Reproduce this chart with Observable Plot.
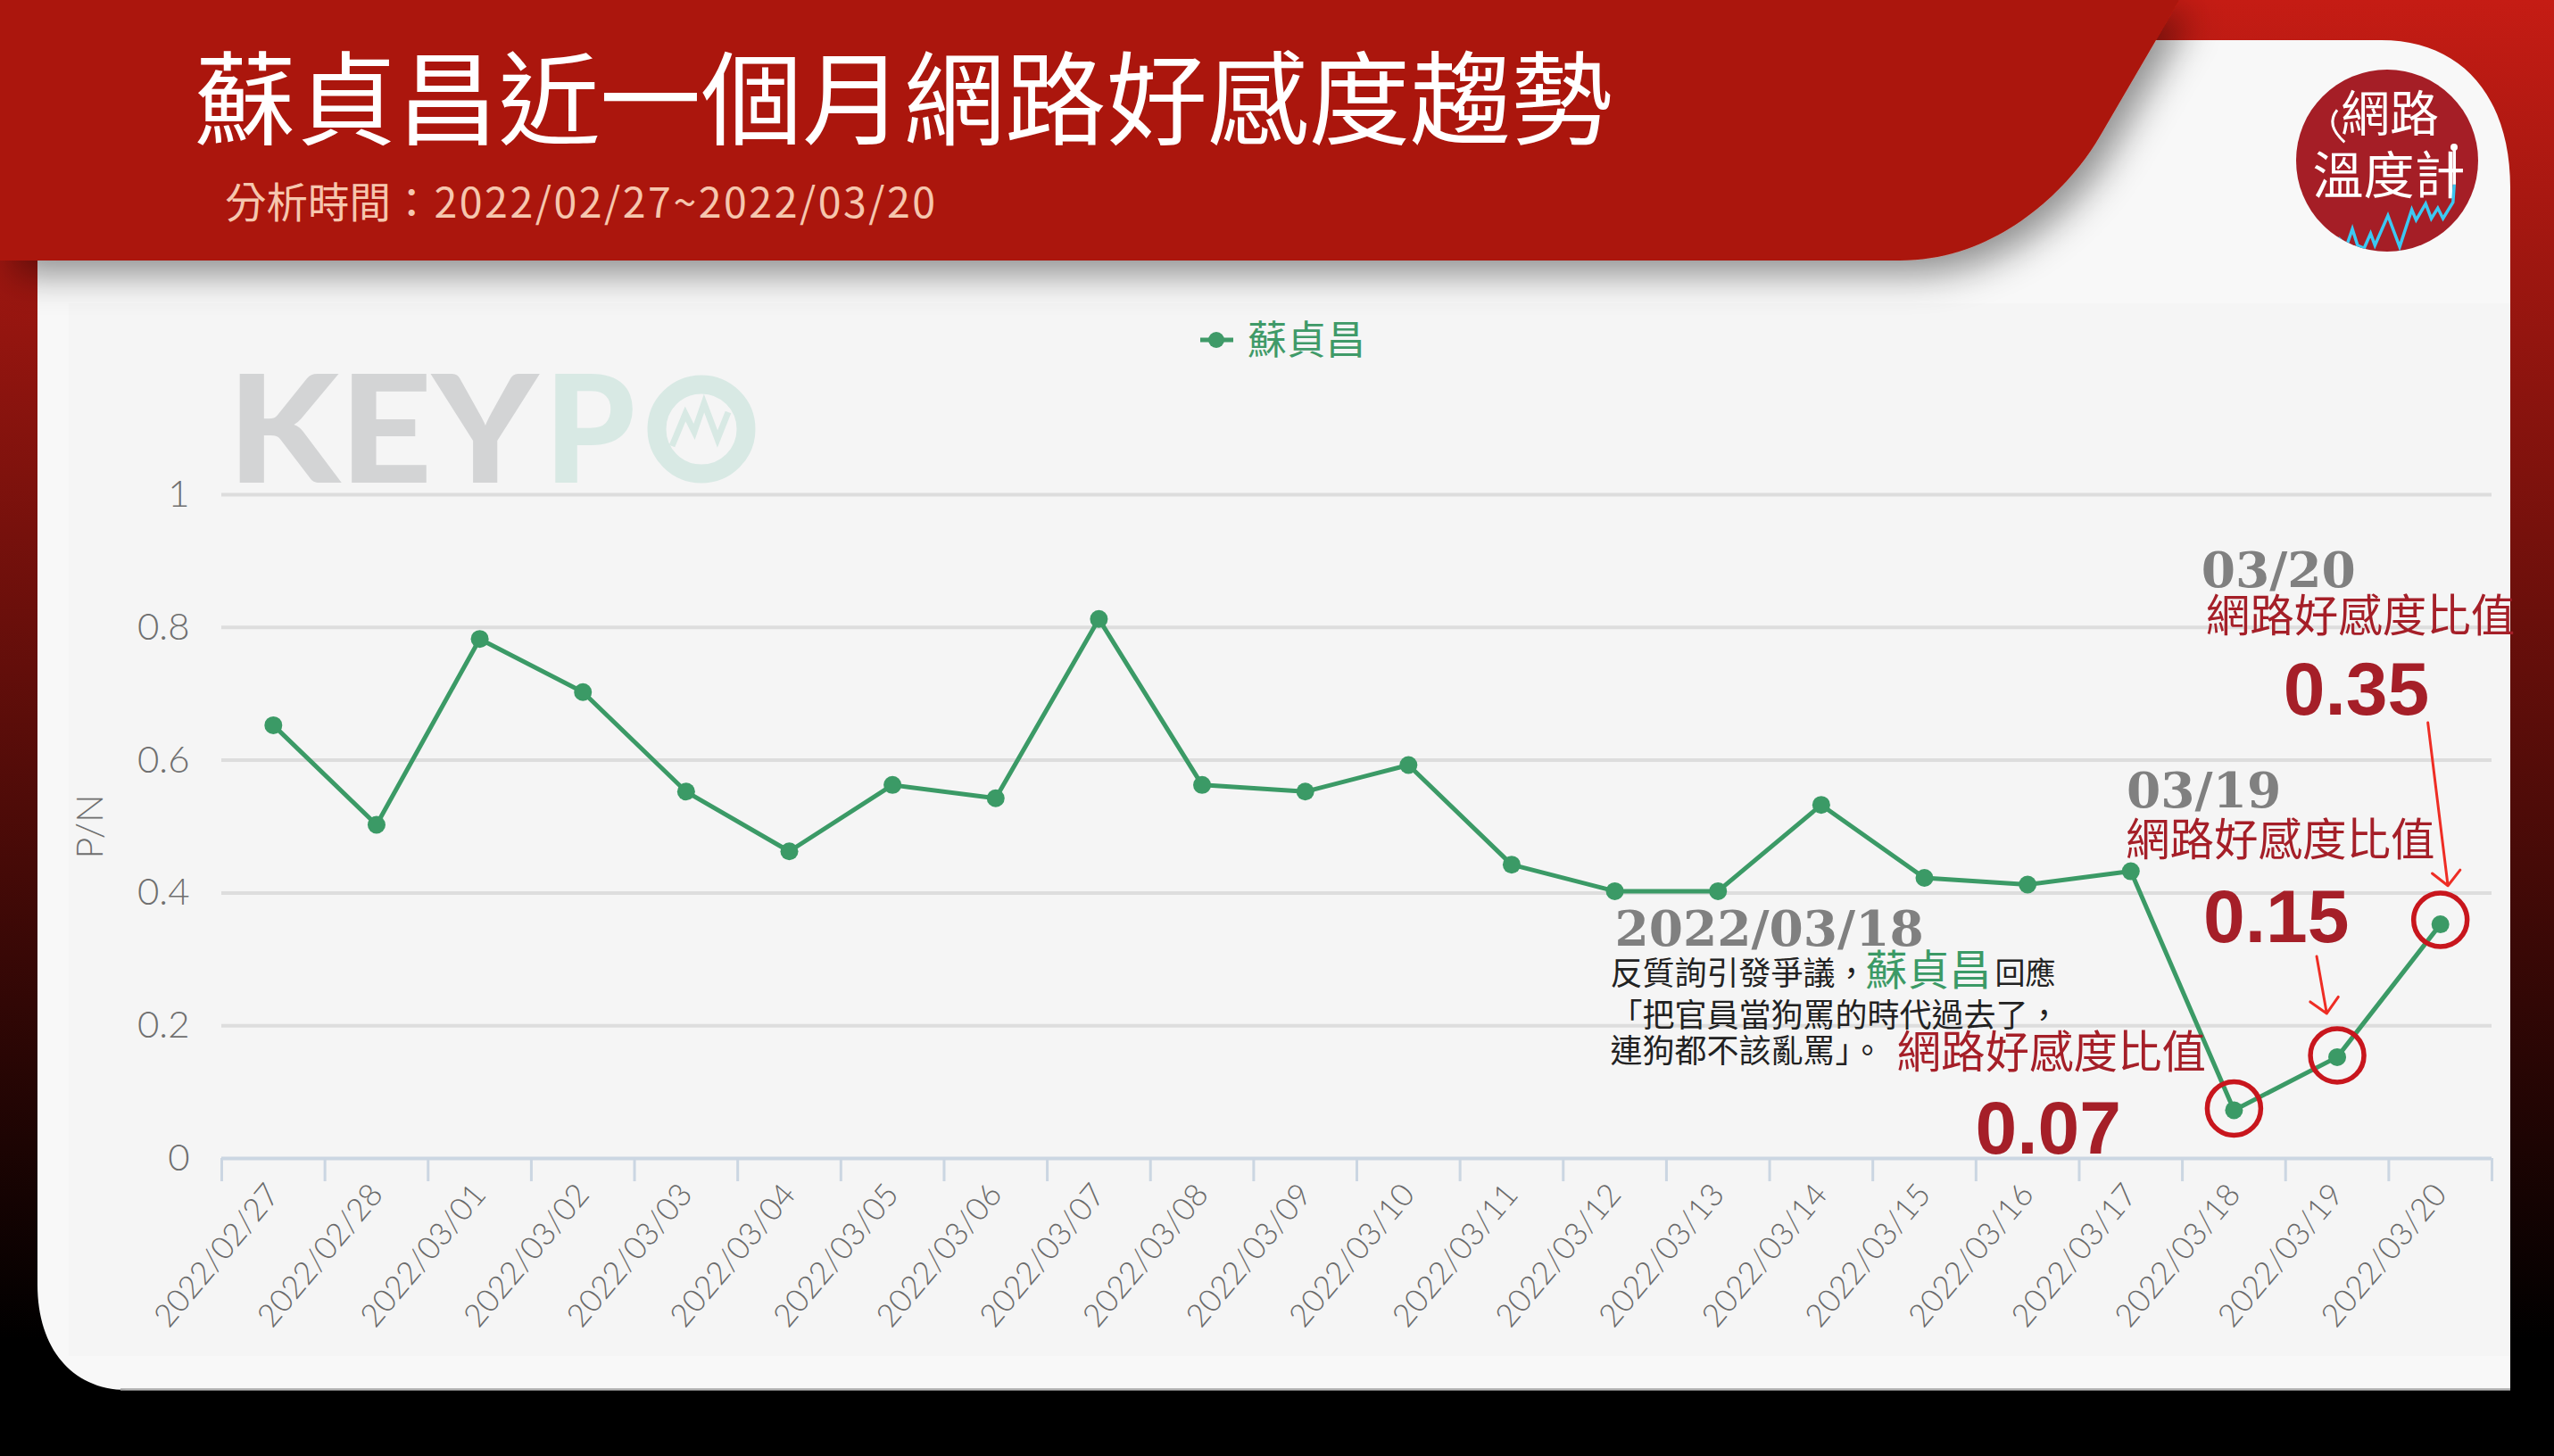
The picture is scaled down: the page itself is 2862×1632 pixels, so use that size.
<!DOCTYPE html>
<html lang="zh-Hant">
<head>
<meta charset="utf-8">
<script src="https://cdn.jsdelivr.net/npm/d3@7"></script>
<script src="https://cdn.jsdelivr.net/npm/@observablehq/plot@0.6"></script>
<style>
html,body{margin:0;padding:0;background:#000}
#page{position:relative;width:2862px;height:1632px;overflow:hidden;font-family:"Noto Sans CJK TC",sans-serif}
#page>*{position:absolute}
#chrome{left:0;top:0}
#plot{left:0;top:0}
#plot svg{display:block}
.h{white-space:nowrap;line-height:1}
#title{left:218px;top:47px;font-size:113.5px;color:#fff;font-weight:400}
#subtitle{left:252px;top:201px;font-size:46.5px;color:#f6c6ae;font-weight:400}
#subtitle span{letter-spacing:2.5px;margin-left:2px}
#legend{left:1398px;top:356px;font-size:44px;color:#3f9a68;font-weight:400}
</style>
</head>
<body>
<div id="page">
<svg id="chrome" width="2862" height="1632" viewBox="0 0 2862 1632">
  <defs>
    <linearGradient id="bg" x1="0" y1="0" x2="0" y2="1">
      <stop offset="0" stop-color="#c51c14"/><stop offset="0.92" stop-color="#000"/><stop offset="1" stop-color="#000"/>
    </linearGradient>
    <filter id="shade" x="-10%" y="-10%" width="125%" height="140%">
      <feDropShadow dx="14" dy="16" stdDeviation="20" flood-color="#000" flood-opacity="0.42"/>
    </filter>
    <clipPath id="badge"><circle cx="2675" cy="180" r="102"/></clipPath>
  </defs>
  <rect width="2862" height="1632" fill="url(#bg)"/>
  <path d="M42 200H2300V45H2668C2760 45 2813 110 2813 210V1558H142C80 1558 42 1510 42 1440Z" fill="#f8f8f8"/>
  <rect x="135" y="1556" width="2678" height="3" fill="#9a9a9a" opacity="0.7"/>
  <path d="M77 340H2813V1520H77Z" fill="#f5f5f5"/>
  <path d="M0 0H2442L2416 45L2353 153C2320 210 2240 292 2129 292H0Z" fill="#ab190c" filter="url(#shade)"/>
  <g>
    <text x="255" y="541" font-family="Lato" font-weight="900" font-size="168" fill="#d3d4d5" textLength="348" lengthAdjust="spacingAndGlyphs">KEY</text>
    <text x="610" y="541" font-family="Lato" font-weight="900" font-size="168" fill="#d8e9e4" textLength="102" lengthAdjust="spacingAndGlyphs">P</text>
    <circle cx="786" cy="481" r="50" fill="none" stroke="#d8e9e4" stroke-width="21"/>
    <polyline points="753,500 768,464 778,484 789,452 804,492 816,462" fill="none" stroke="#d8e9e4" stroke-width="7"/>
  </g>
  <circle cx="2675" cy="180" r="102" fill="#a51e26"/>
  <text x="2678" y="147" text-anchor="middle" font-family="Noto Sans CJK TC" font-size="55" fill="#fff">網路</text>
  <text x="2677" y="217" text-anchor="middle" font-family="Noto Sans CJK TC" font-size="57" fill="#fff">溫度計</text>
  <g clip-path="url(#badge)">
    <g transform="translate(2100,0) scale(0.486,0.3333)">
      <polyline vector-effect="non-scaling-stroke" points="1070,800 1090,825 1103,770 1115,825 1130,835 1145,785 1155,825 1185,725 1212,830 1240,705 1250,740 1272,685 1285,735 1300,700 1312,735 1335,680 1338,620" fill="none" stroke="#3cc8f2" stroke-width="3.5"/>
      <line vector-effect="non-scaling-stroke" x1="1338" y1="620" x2="1338" y2="495" stroke="#fff" stroke-width="3.5"/>
      <path vector-effect="non-scaling-stroke" d="M1068 370Q1040 420 1085 478" fill="none" stroke="#fff" stroke-width="3"/>
    </g>
    <circle cx="2750" cy="165" r="4" fill="#fff"/>
  </g>
  <line x1="1345" y1="381" x2="1382" y2="381" stroke="#3f9a68" stroke-width="5"/>
  <circle cx="1363" cy="381" r="9" fill="#3f9a68"/>
</svg>
<div id="title" class="h">蘇貞昌近一個月網路好感度趨勢</div>
<div id="subtitle" class="h">分析時間：<span>2022/02/27~2022/03/20</span></div>
<div id="legend" class="h">蘇貞昌</div>
<div id="plot"></div>
</div>
<script>
const dates = ["2022/02/27","2022/02/28","2022/03/01","2022/03/02","2022/03/03","2022/03/04","2022/03/05","2022/03/06","2022/03/07","2022/03/08","2022/03/09","2022/03/10","2022/03/11","2022/03/12","2022/03/13","2022/03/14","2022/03/15","2022/03/16","2022/03/17","2022/03/18","2022/03/19","2022/03/20"];
const values = [0.65,0.50,0.78,0.70,0.55,0.46,0.56,0.54,0.81,0.56,0.55,0.59,0.44,0.40,0.40,0.53,0.42,0.41,0.43,0.07,0.15,0.35];
const yTicks = [0,0.2,0.4,0.6,0.8,1];
const ratioLabel = "網路好感度比值";
const series = dates.map((date,i)=>({date,value:values[i]}));
const [p18,p19,p20] = series.slice(-3);

const GREEN="#3b9a66", WINE="#a51f28", GREY="#808080", RED="#ee2d24", RING="#c8161d";
const SERIF={fontFamily:"DejaVu Serif",fontWeight:700,fontSize:55,fill:GREY};
const BODY={fontSize:36,fill:"#222"};
const RATIO={fontSize:49.5,fill:WINE};
const BIG={fontFamily:"Liberation Sans",fontWeight:700,fontSize:84,fill:WINE};

const note=(p,text,dx,dy,style)=>Plot.text([p],{x:"date",y:"value",text:()=>text,dx,dy,textAnchor:"start",lineAnchor:"middle",...style});
const ring=(p,dy)=>Plot.dot([p],{x:"date",y:"value",r:30,dy,fill:"none",stroke:RING,strokeWidth:5.5});
const pointer=(p,length,rotate,dx,dy,r)=>Plot.vector([p],{x:"date",y:"value",length,rotate,anchor:"start",dx,dy,r,stroke:RED,strokeWidth:3});

const W=2862,H=1632,ML=248,MR=70,MT=554,MB=334;
const halfBand=(W-ML-MR)/dates.length/2;

const chart=Plot.plot({
  width:W,height:H,marginLeft:ML,marginRight:MR,marginTop:MT,marginBottom:MB,
  style:{background:"transparent",fontFamily:"Noto Sans CJK TC"},
  x:{type:"band",domain:dates,padding:0,round:false,label:null},
  y:{domain:[0,1],label:null},
  marks:[
    Plot.ruleY(yTicks.filter(d=>d>0),{stroke:"#dddddd",strokeWidth:4}),
    Plot.ruleX(dates,{x:d=>d,dx:-halfBand,y1:0,y2:-0.035,stroke:"#cbd6e2",strokeWidth:3}),
    Plot.ruleX(dates.slice(-1),{x:d=>d,dx:halfBand,y1:0,y2:-0.035,stroke:"#cbd6e2",strokeWidth:3}),
    Plot.ruleY([0],{stroke:"#cbd6e2",strokeWidth:4}),
    Plot.axisY({ticks:yTicks,tickFormat:d=>String(d),tickSize:0,tickPadding:36,fontSize:42,fontWeight:300,fontFamily:"Lato",color:"#6f6f6f",label:"P/N",labelAnchor:"center",labelArrow:"none",labelOffset:163}),
    Plot.axisX({tickSize:0,tickPadding:34,tickRotate:-50,fontSize:35.5,fontWeight:300,fontFamily:"Lato",color:"#6a6a6a",label:null}),
    Plot.line(series,{x:"date",y:"value",dy:-2,stroke:GREEN,strokeWidth:5}),
    Plot.dot(series,{x:"date",y:"value",dy:-2,r:10,fill:GREEN}),
    ring(p18,-4),ring(p19,-4),ring(p20,-7),
    pointer(p19,65,170,-23,-115,4.3),
    pointer(p20,184,173,-14,-228,1.5),
    note(p18,"2022/03/18",-694,-204,SERIF),
    note(p18,"反質詢引發爭議，",-699,-154,BODY),
    note(p18,"蘇貞昌",-413,-157,{fontSize:47,fill:GREEN}),
    note(p18,"回應",-268,-154,{fontSize:34,fill:"#222"}),
    note(p18,"「把官員當狗罵的時代過去了，",-699,-107,BODY),
    note(p18,"連狗都不該亂罵」。",-699,-67,BODY),
    note(p18,ratioLabel,-378,-65,RATIO),
    note(p18,"0.07",-290,20,BIG),
    note(p19,"03/19",-236,-300,SERIF),
    note(p19,ratioLabel,-237,-244,RATIO),
    note(p19,"0.15",-150,-158,BIG),
    note(p20,"03/20",-268,-398,SERIF),
    note(p20,ratioLabel,-263,-346,RATIO),
    note(p20,"0.35",-176,-264,BIG)
  ]
});
document.getElementById("plot").appendChild(chart);
</script>
</body>
</html>
